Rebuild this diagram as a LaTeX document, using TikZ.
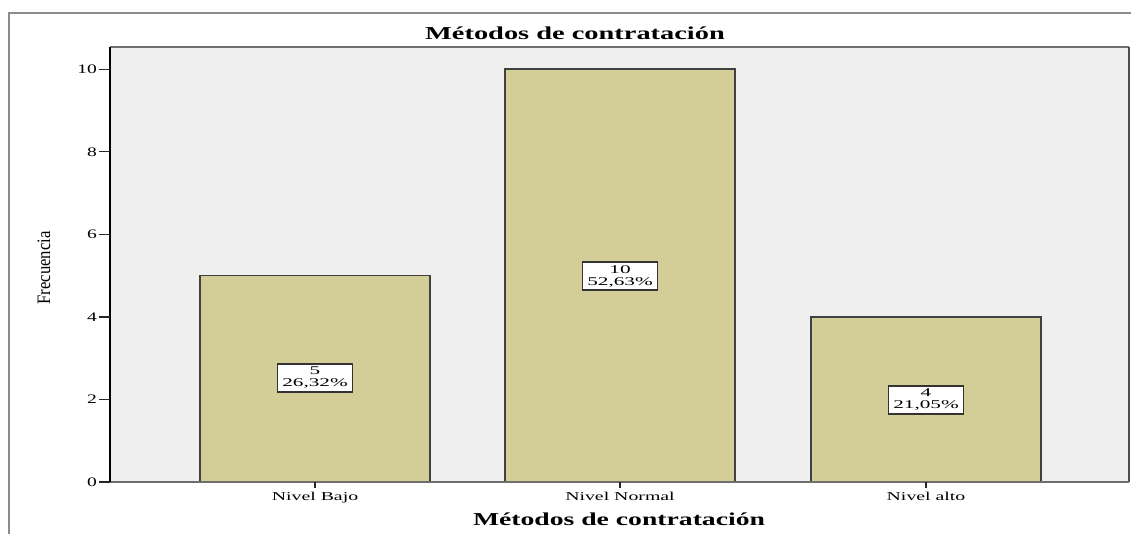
\documentclass[tikz,border=0pt]{standalone}
\usepackage{fontspec}
\setmainfont{Liberation Serif}
\definecolor{plotbg}{RGB}{239,239,239}
\definecolor{barfill}{RGB}{211,206,151}
\definecolor{framegray}{RGB}{140,140,140}
\definecolor{axisgray}{RGB}{110,110,110}
\newcommand{\hstretch}[2]{\scalebox{#1}[1]{#2}}
\begin{document}
\begin{tikzpicture}[x=1pt,y=-1pt,
  barshape/.style={fill=barfill, draw=black!75, line width=1.6pt},
  valbox/.style={draw=black!80, fill=white, line width=1.1pt, minimum width=75pt, minimum height=28pt, inner sep=0pt, align=center, font=\fontsize{11.8}{13}\selectfont},
  ticklab/.style={anchor=east, inner sep=0pt, font=\fontsize{13}{14}\selectfont},
  catlab/.style={anchor=base, inner sep=0pt, font=\fontsize{12}{14}\selectfont},
  titlelab/.style={anchor=base, inner sep=0pt, font=\fontsize{18.2}{20}\selectfont\bfseries},
  tickline/.style={draw=black!85, line width=1.2pt}]
\useasboundingbox (0,0) rectangle (1131,534);
% outer frame
\draw[framegray, line width=2pt] (8.5,534) -- (8.5,13) -- (1131,13);
% plot area
\fill[plotbg] (110,47) rectangle (1129,482);
\draw[axisgray, line width=1.8pt] (110,47) -- (1129,47);
\draw[black!70, line width=1.8pt] (1129,47) -- (1129,482);
% bars
\draw[barshape] (200,482) rectangle (430,275.6);
\draw[barshape] (505,482) rectangle (735,69.3);
\draw[barshape] (811,482) rectangle (1041,316.9);
% axes
\draw[axisgray, line width=1.8pt] (110,482) -- (1129,482);
\draw[black, line width=2pt] (110,47) -- (110,482);
% y ticks and labels
\foreach \v in {0,2,4,6,8,10} {
  \node[ticklab] (t\v) at (97,{482-41.27*\v}) {\hstretch{1.5}{\v}};
  \draw[tickline] (99,{482-41.27*\v}) -- (110,{482-41.27*\v});
}
% category ticks
\foreach \c in {315,620,926} {
  \draw[tickline] (\c,482) -- (\c,488);
}
% value boxes
\node[valbox] (v1) at (315,378) {\hstretch{1.8}{5}\\[-1pt]\hstretch{1.8}{26,32\%}};
\node[valbox] (v2) at (620,276) {\hstretch{1.8}{10}\\[-1pt]\hstretch{1.8}{52,63\%}};
\node[valbox] (v3) at (926,400) {\hstretch{1.8}{4}\\[-1pt]\hstretch{1.8}{21,05\%}};
% category labels
\node[catlab] (c1) at (315,500) {\hstretch{1.65}{Nivel Bajo}};
\node[catlab] (c2) at (620,500) {\hstretch{1.65}{Nivel Normal}};
\node[catlab] (c3) at (926,500) {\hstretch{1.65}{Nivel alto}};
% titles
\node[titlelab] (title) at (575,40) {\hstretch{1.56}{Métodos de contratación}};
\node[titlelab] (xtitle) at (619,525) {\hstretch{1.52}{Métodos de contratación}};
\node[rotate=90, anchor=base, inner sep=0pt, font=\fontsize{19}{20}\selectfont] (ytitle) at (50,268) {\scalebox{0.88}[1]{Frecuencia}};
\end{tikzpicture}
\end{document}
